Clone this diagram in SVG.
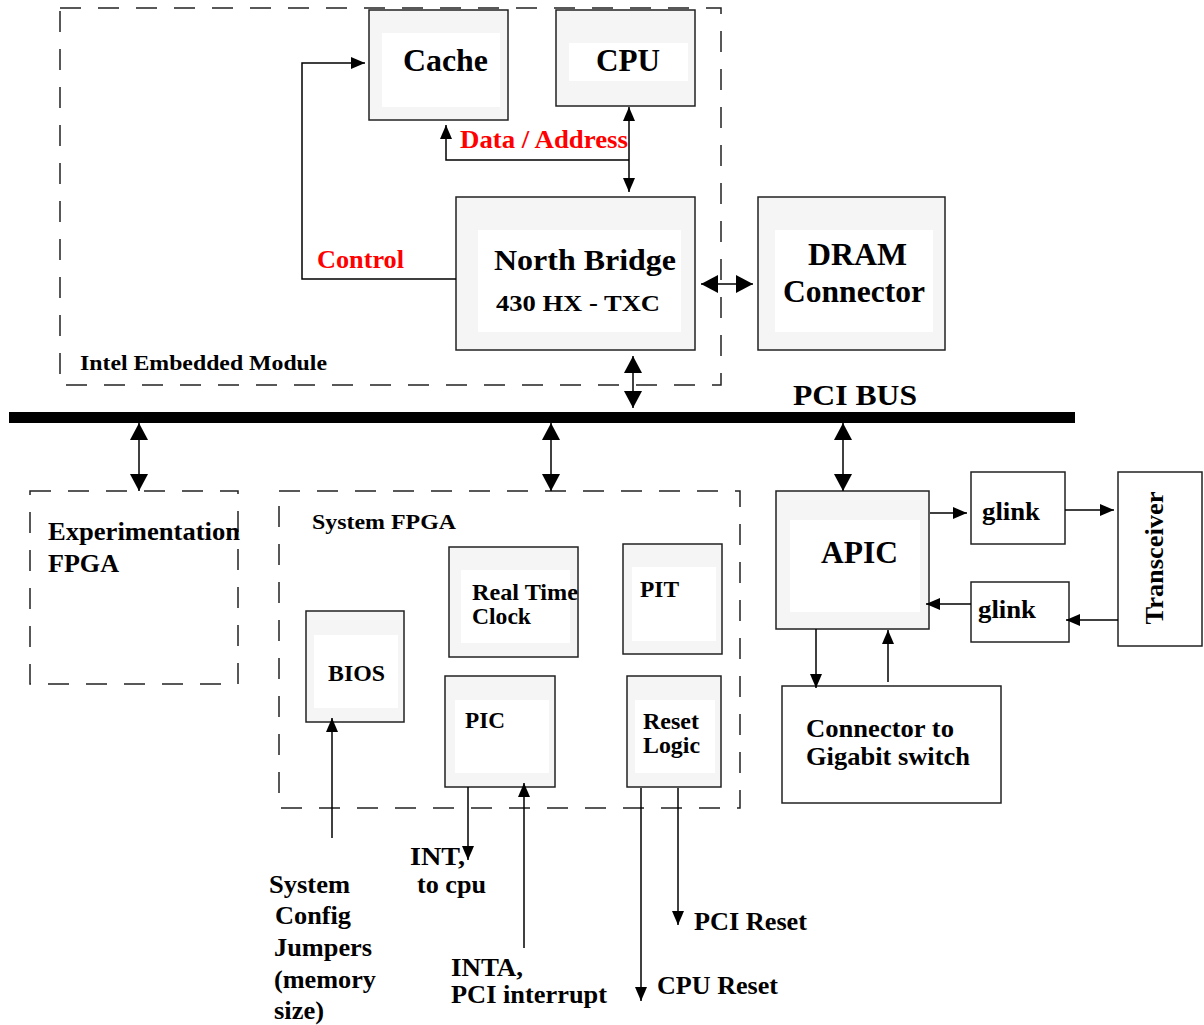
<svg xmlns="http://www.w3.org/2000/svg" width="1204" height="1025" viewBox="0 0 1204 1025">
<style>
text{font-family:"Liberation Serif","Times New Roman",serif;font-weight:bold;fill:#000}
.box{fill:#f5f5f5;stroke:#222;stroke-width:1.5}
.inner{fill:#fff;stroke:none}
.plain{fill:#fff;stroke:#222;stroke-width:1.5}
.dash{fill:none;stroke:#222;stroke-width:1.5;stroke-dasharray:21 17}
.ln{fill:none;stroke:#000;stroke-width:1.5}
.red{fill:#ff0000}
</style>
<defs>
<marker id="ah" markerUnits="userSpaceOnUse" markerWidth="14" markerHeight="12" refX="14" refY="6" orient="auto-start-reverse"><path d="M0,0 L14,6 L0,12 z" fill="#000"/></marker>
<marker id="ahb" markerUnits="userSpaceOnUse" markerWidth="17" markerHeight="18" refX="17" refY="9" orient="auto-start-reverse"><path d="M0,0 L17,9 L0,18 z" fill="#000"/></marker>
</defs>

<g id="intel-module">
<rect class="dash" x="60" y="8" width="661" height="377"/>
<text x="80" y="370" font-size="21" textLength="247" lengthAdjust="spacingAndGlyphs">Intel Embedded Module</text>
</g>
<g id="cache">
<rect class="box" x="369" y="10" width="139" height="110"/>
<rect class="inner" x="382" y="33" width="118" height="74"/>
<text x="403" y="71" font-size="32" textLength="85" lengthAdjust="spacingAndGlyphs">Cache</text>
</g>
<g id="cpu">
<rect class="box" x="556" y="10" width="139" height="96"/>
<rect class="inner" x="569" y="43" width="119" height="38"/>
<text x="596" y="71" font-size="31" textLength="64" lengthAdjust="spacingAndGlyphs">CPU</text>
</g>
<g id="north-bridge">
<rect class="box" x="456" y="197" width="239" height="153"/>
<rect class="inner" x="478" y="230" width="203" height="102"/>
<text x="494" y="270" font-size="30" textLength="182" lengthAdjust="spacingAndGlyphs">North Bridge</text>
<text x="496" y="311" font-size="24" textLength="164" lengthAdjust="spacingAndGlyphs">430 HX - TXC</text>
</g>
<g id="dram">
<rect class="box" x="758" y="197" width="187" height="153"/>
<rect class="inner" x="775" y="230" width="158" height="102"/>
<text x="808" y="265" font-size="31" textLength="99" lengthAdjust="spacingAndGlyphs">DRAM</text>
<text x="783" y="302" font-size="31" textLength="142" lengthAdjust="spacingAndGlyphs">Connector</text>
</g>
<g id="pci-bus">
<rect x="9" y="412" width="1066" height="11" fill="#000"/>
<text x="793" y="405" font-size="29" textLength="124" lengthAdjust="spacingAndGlyphs">PCI BUS</text>
</g>
<g id="experimentation-fpga">
<rect class="dash" x="30" y="491" width="208" height="193"/>
<text x="48" y="540" font-size="25" textLength="192" lengthAdjust="spacingAndGlyphs">Experimentation</text>
<text x="48" y="572" font-size="25" textLength="71" lengthAdjust="spacingAndGlyphs">FPGA</text>
</g>
<g id="system-fpga">
<rect class="dash" x="279" y="491" width="461" height="317"/>
<text x="312" y="529" font-size="21" textLength="144" lengthAdjust="spacingAndGlyphs">System FPGA</text>
</g>
<g id="rtc">
<rect class="box" x="449" y="547" width="129" height="110"/>
<rect class="inner" x="461" y="570" width="109" height="73"/>
<text x="472" y="600" font-size="23" textLength="106" lengthAdjust="spacingAndGlyphs">Real Time</text>
<text x="472" y="624" font-size="23" textLength="59" lengthAdjust="spacingAndGlyphs">Clock</text>
</g>
<g id="pit">
<rect class="box" x="623" y="544" width="99" height="110"/>
<rect class="inner" x="632" y="567" width="84" height="74"/>
<text x="640" y="597" font-size="23" textLength="39" lengthAdjust="spacingAndGlyphs">PIT</text>
</g>
<g id="bios">
<rect class="box" x="306" y="611" width="98" height="111"/>
<rect class="inner" x="314" y="635" width="84" height="73"/>
<text x="328" y="681" font-size="23" textLength="57" lengthAdjust="spacingAndGlyphs">BIOS</text>
</g>
<g id="pic">
<rect class="box" x="445" y="676" width="110" height="111"/>
<rect class="inner" x="455" y="700" width="94" height="73"/>
<text x="465" y="728" font-size="23" textLength="40" lengthAdjust="spacingAndGlyphs">PIC</text>
</g>
<g id="reset-logic">
<rect class="box" x="627" y="676" width="94" height="111"/>
<rect class="inner" x="635" y="700" width="80" height="73"/>
<text x="643" y="729" font-size="23" textLength="56" lengthAdjust="spacingAndGlyphs">Reset</text>
<text x="643" y="753" font-size="23" textLength="57" lengthAdjust="spacingAndGlyphs">Logic</text>
</g>
<g id="apic">
<rect class="box" x="776" y="491" width="153" height="138"/>
<rect class="inner" x="790" y="520" width="130" height="92"/>
<text x="821" y="563" font-size="31" textLength="77" lengthAdjust="spacingAndGlyphs">APIC</text>
</g>
<g id="glink1">
<rect class="plain" x="971" y="472" width="94" height="72"/>
<text x="982" y="520" font-size="25" textLength="58" lengthAdjust="spacingAndGlyphs">glink</text>
</g>
<g id="glink2">
<rect class="plain" x="971" y="582" width="98" height="60"/>
<text x="978" y="618" font-size="25" textLength="58" lengthAdjust="spacingAndGlyphs">glink</text>
</g>
<g id="transceiver">
<rect class="plain" x="1118" y="472" width="84" height="174"/>
<text x="1163" y="558" font-size="25" text-anchor="middle" textLength="133" lengthAdjust="spacingAndGlyphs" transform="rotate(-90 1163 558)">Transceiver</text>
</g>
<g id="gigabit-connector">
<rect class="plain" x="782" y="686" width="219" height="117"/>
<text x="806" y="737" font-size="25" textLength="148" lengthAdjust="spacingAndGlyphs">Connector to</text>
<text x="806" y="765" font-size="25" textLength="164" lengthAdjust="spacingAndGlyphs">Gigabit switch</text>
</g>

<g id="connectors">
<path class="ln" d="M629,160 L446,160 L446,125" stroke-width="3" marker-end="url(#ah)"/>
<path class="ln" d="M629,107 L629,192" marker-start="url(#ah)" marker-end="url(#ah)"/>
<path class="ln" d="M456,279 L302,279 L302,63 L365,63" marker-end="url(#ah)"/>
<path class="ln" d="M701,284 L753,284" stroke-width="2.5" marker-start="url(#ahb)" marker-end="url(#ahb)"/>
<path class="ln" d="M633,356 L633,408" stroke-width="2.5" marker-start="url(#ahb)" marker-end="url(#ahb)"/>
<path class="ln" d="M139,423 L139,491" stroke-width="2.5" marker-start="url(#ahb)" marker-end="url(#ahb)"/>
<path class="ln" d="M551,423 L551,491" stroke-width="2.5" marker-start="url(#ahb)" marker-end="url(#ahb)"/>
<path class="ln" d="M843,423 L843,491" stroke-width="2.5" marker-start="url(#ahb)" marker-end="url(#ahb)"/>
<path class="ln" d="M930,513 L967,513" marker-end="url(#ah)"/>
<path class="ln" d="M1065,510 L1114,510" marker-end="url(#ah)"/>
<path class="ln" d="M1118,620 L1066,620" marker-end="url(#ah)"/>
<path class="ln" d="M971,604 L926,604" marker-end="url(#ah)"/>
<path class="ln" d="M816,629 L816,688" marker-end="url(#ah)"/>
<path class="ln" d="M888,682 L888,630" marker-end="url(#ah)"/>
<path class="ln" d="M332,838 L332,718" marker-end="url(#ah)"/>
<path class="ln" d="M468,787 L468,860" marker-end="url(#ah)"/>
<path class="ln" d="M524,948 L524,783" marker-end="url(#ah)"/>
<path class="ln" d="M678,788 L678,925" marker-end="url(#ah)"/>
<path class="ln" d="M641,788 L641,1001" marker-end="url(#ah)"/>
</g>

<g id="labels">
<text class="red" x="460" y="148" font-size="25" textLength="168" lengthAdjust="spacingAndGlyphs">Data / Address</text>
<text class="red" x="317" y="268" font-size="25" textLength="87" lengthAdjust="spacingAndGlyphs">Control</text>
<text x="410" y="865" font-size="25" textLength="55" lengthAdjust="spacingAndGlyphs">INT,</text>
<text x="417" y="893" font-size="25" textLength="69" lengthAdjust="spacingAndGlyphs">to cpu</text>
<text x="451" y="976" font-size="25" textLength="72" lengthAdjust="spacingAndGlyphs">INTA,</text>
<text x="451" y="1003" font-size="25" textLength="156" lengthAdjust="spacingAndGlyphs">PCI interrupt</text>
<text x="694" y="930" font-size="25" textLength="113" lengthAdjust="spacingAndGlyphs">PCI Reset</text>
<text x="657" y="994" font-size="25" textLength="121" lengthAdjust="spacingAndGlyphs">CPU Reset</text>
<text x="269" y="893" font-size="25" textLength="81" lengthAdjust="spacingAndGlyphs">System</text>
<text x="275" y="924" font-size="25" textLength="76" lengthAdjust="spacingAndGlyphs">Config</text>
<text x="274" y="956" font-size="25" textLength="98" lengthAdjust="spacingAndGlyphs">Jumpers</text>
<text x="274" y="988" font-size="25" textLength="102" lengthAdjust="spacingAndGlyphs">(memory</text>
<text x="274" y="1019" font-size="25" textLength="50" lengthAdjust="spacingAndGlyphs">size)</text>
</g>
</svg>
